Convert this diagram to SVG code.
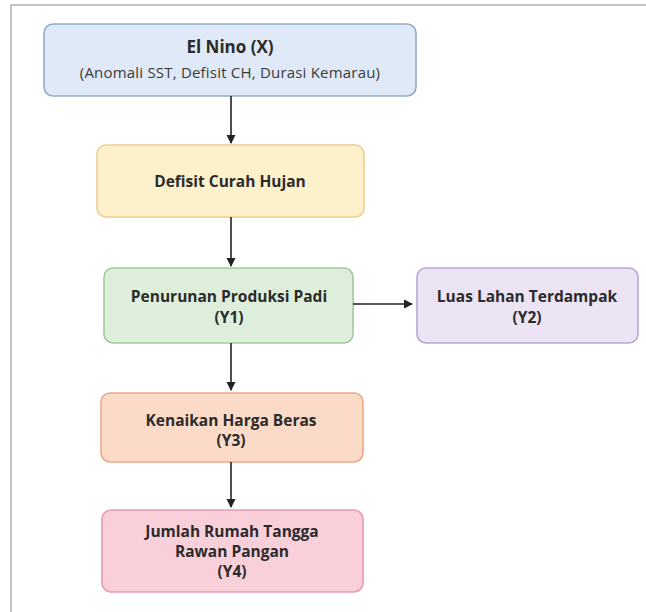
<svg xmlns="http://www.w3.org/2000/svg" width="646" height="612" viewBox="0 0 646 612">
<style>
.box{stroke-width:1.6}
.t{font-family:"Open Sans","Liberation Sans",sans-serif;font-size:15.5px;font-weight:700;fill:#2b2b2b;text-anchor:middle}
.s{font-family:"Open Sans","Liberation Sans",sans-serif;font-size:15px;font-weight:400;fill:#3a3a3a;text-anchor:middle;letter-spacing:0.2px}
.c{stroke:#222;stroke-width:1.6;fill:none}
</style>
<defs>
<marker id="ah" markerWidth="10" markerHeight="10" refX="8" refY="5" orient="auto" markerUnits="userSpaceOnUse">
<path d="M0,0.5 L9,5 L0,9.5 Z" fill="#222"/>
</marker>
</defs>
<rect width="646" height="612" fill="#ffffff"/>
<path d="M11,612 L11,5 L646,5" fill="none" stroke="#b3b3b3" stroke-width="1.6"/>
<g id="n1">
<rect class="box" x="44" y="24" width="372" height="72" rx="9" fill="#dfe9f7" stroke="#94aacb"/>
<text class="t" x="230" y="53" style="font-size:17px">El Nino (X)</text>
<text class="s" x="230" y="78">(Anomali SST, Defisit CH, Durasi Kemarau)</text>
</g>
<g id="n2">
<rect class="box" x="97" y="145" width="267" height="72" rx="9" fill="#fdf1cc" stroke="#ead08f"/>
<text class="t" x="230" y="187">Defisit Curah Hujan</text>
</g>
<g id="n3">
<rect class="box" x="104" y="268" width="249" height="75" rx="9" fill="#ddefda" stroke="#a3c99e"/>
<text class="t" x="229" y="302">Penurunan Produksi Padi</text>
<text class="t" x="229" y="323">(Y1)</text>
</g>
<g id="n4">
<rect class="box" x="417" y="268" width="221" height="75" rx="9" fill="#ece4f4" stroke="#b7a8d0"/>
<text class="t" x="527" y="302">Luas Lahan Terdampak</text>
<text class="t" x="527" y="323">(Y2)</text>
</g>
<g id="n5">
<rect class="box" x="101" y="393" width="262" height="69" rx="9" fill="#fbdac7" stroke="#e9aa88"/>
<text class="t" x="231" y="426">Kenaikan Harga Beras</text>
<text class="t" x="231" y="446">(Y3)</text>
</g>
<g id="n6">
<rect class="box" x="102" y="510" width="261" height="82" rx="9" fill="#f9d0da" stroke="#e79cb1"/>
<text class="t" x="232" y="537">Jumlah Rumah Tangga</text>
<text class="t" x="232" y="557">Rawan Pangan</text>
<text class="t" x="232" y="577">(Y4)</text>
</g>
<g id="connectors">
<line class="c" x1="231" y1="96" x2="231" y2="143" marker-end="url(#ah)"/>
<line class="c" x1="231" y1="217" x2="231" y2="266" marker-end="url(#ah)"/>
<line class="c" x1="353" y1="304" x2="412" y2="304" marker-end="url(#ah)"/>
<line class="c" x1="231" y1="343" x2="231" y2="390" marker-end="url(#ah)"/>
<line class="c" x1="231" y1="462" x2="231" y2="507" marker-end="url(#ah)"/>
</g>
</svg>
